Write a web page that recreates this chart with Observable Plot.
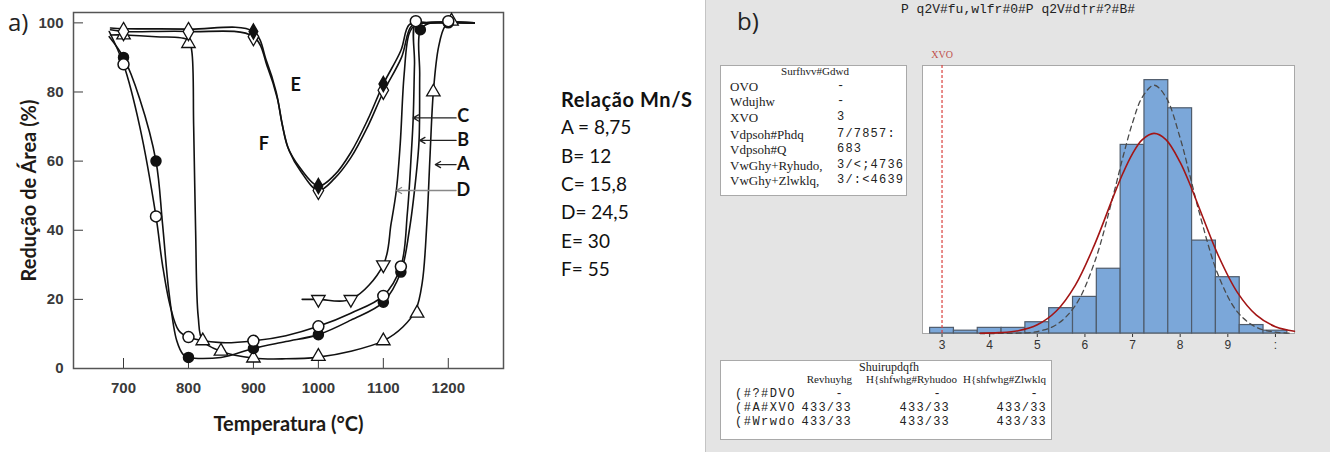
<!DOCTYPE html>
<html><head><meta charset="utf-8">
<script src="https://cdn.jsdelivr.net/npm/d3@7"></script>
<script src="https://cdn.jsdelivr.net/npm/@observablehq/plot@0.6"></script>
<style>
body{margin:0;background:#fff;}
#wrap{position:relative;width:1330px;height:452px;overflow:hidden;background:#fff;}
#pa{position:absolute;left:0;top:0;}
#pb{position:absolute;left:905px;top:40px;}
#panelB{position:absolute;left:705px;top:0;width:625px;height:452px;background:#e4e4e4;border-left:1px solid #c4c4c4;box-sizing:border-box;}
.box{position:absolute;background:#fff;border:1px solid #a9a9a9;box-sizing:border-box;}
.t{position:absolute;white-space:pre;}
#pa g[aria-label="x-axis label"] text, #pa g[aria-label="y-axis label"] text{font-family:Lato,sans-serif;font-size:20px;font-weight:bold;fill:#1e1a16;}
</style></head>
<body><div id="wrap"><div id="panelB"></div></div>
<script>
// ---------- Panel a data ----------
const tempTicks = [700, 800, 900, 1000, 1100, 1200];
const reductionTicks = [0, 20, 40, 60, 80, 100];
// curve A (open up-triangles)
const lineA = [[680,96.5],[700,96.5],[750,96],[800,95],[805,92],[808,70],[811,40],[815,15],[822,8],[850,5],[900,3],[950,2.8],[1000,3.3],[1050,5],[1100,8],[1130,12],[1150,17],[1160,25],[1167,42],[1172,62],[1177,80],[1185,93],[1195,99],[1205,100],[1240,100]];
const dotsA = [[700,96.5],[800,94],[822,8],[850,5],[900,3],[1000,3.5],[1100,8],[1152,16],[1177,80],[1205,100.5]];
// curve B (filled circles)
const lineB = [[678,96],[700,90],[725,78],[750,60],[760,42],[770,22],[782,8],[792,4],[800,3.2],[850,3.2],[900,5.8],[950,7.8],[1000,9.8],[1050,14],[1100,19.2],[1127,27.9],[1140,40],[1150,55],[1155,66],[1156,85],[1157,98],[1170,99.8],[1200,100],[1240,100]];
const dotsB = [[700,90],[750,60],[800,3.2],[900,5.8],[1000,9.8],[1100,19.2],[1127,27.9],[1157,98],[1200,100]];
// curve C (open circles)
const lineC = [[678,97.5],[700,88],[725,70],[750,44],[760,30],[772,18],[785,11],[800,9.1],[850,7.5],[900,8],[950,9.5],[1000,12.2],[1050,16],[1100,21],[1127,29.5],[1137,45],[1143,62],[1146,72.5],[1148,88],[1150,100],[1170,100],[1200,100.3],[1240,100]];
const dotsC = [[700,88],[750,44],[800,9.1],[900,8],[1000,12.2],[1100,21],[1127,29.5],[1150,100.5],[1200,100.5]];
// curve D (open down-triangles)
const lineD = [[975,20],[1000,20],[1050,20],[1100,30],[1112,42],[1120,51.5],[1126,65],[1132,85],[1140,97],[1150,99.5],[1200,100],[1240,100]];
const dotsD = [[1000,20],[1050,20],[1100,30]];
// curve E (open diamonds)
const lineE = [[680,98],[700,97.5],[800,97.5],[900,96],[922,87],[937,78],[945,70],[955,63],[973,57],[1000,51.5],[1025,55],[1050,61],[1076,70],[1100,80],[1128,90],[1143,99],[1160,100],[1240,100]];
const dotsE = [[700,97.5],[800,97.5],[900,96],[1000,51.5],[1100,80.5]];
// curve F (filled diamonds)
const lineF = [[680,98.5],[700,98.3],[800,98.2],[900,97.5],[920,89],[935,80],[944,71],[953,64],[972,58],[1000,52.8],[1025,56],[1050,62.5],[1076,72],[1100,82.3],[1127,92],[1140,99.5],[1160,100],[1240,100]];
const dotsF = [[900,97.5],[1000,52.8],[1100,82.3]];
// curve labels
const curveLabels = ["E", "F", "C", "B", "A", "D"];
const curveLabelX = [965, 916, 1223, 1223, 1223, 1223];
const curveLabelY = [82, 65, 73, 66, 59, 51.5];
// arrows from labels to curves
const arrowY = [72.5, 66, 59, 51.5];
const arrowFromX = [1212, 1212, 1212, 1212];
const arrowToX = [1146, 1156, 1180, 1120];
const arrowColor = ["#222", "#222", "#222", "#888"];
// legend
const legendTitle = "Relação Mn/S";
const legendItems = ["A = 8,75", "B= 12", "C= 15,8", "D= 24,5", "E= 30", "F= 55"];

// ---------- Panel b data ----------
const histTitle = "P q2V#fu,wlfr#0#P q2V#d\u2020r#?#B#";
const binStart = [2.75,3.25,3.75,4.25,4.75,5.25,5.75,6.25,6.75,7.25,7.75,8.25,8.75,9.25,9.75];
const binCount = [2,1,2,2,4,9,13,23,67,90,80,33,20,3,1];
const binWidth = 0.5;
const histTickValues = [3,4,5,6,7,8,9,10];
const histTickLabels = ["3","4","5","6","7","8","9",":"];
const fitOverallX = [3.8,4.2,4.6,5.0,5.4,5.8,6.2,6.6,6.8,7.0,7.2,7.45,7.7,8.0,8.2,8.4,8.8,9.2,9.6,10.0,10.4];
const fitOverallY = [0.1,0.3,1.0,3.1,8.0,17.2,31.5,48.8,57.0,63.9,68.8,71.1,68.9,60.8,53.2,44.6,27.7,14.6,6.5,2.4,0.8];
const fitWithinX = [3.8,4.2,4.6,5.0,5.4,5.8,6.2,6.6,6.8,7.0,7.2,7.45,7.7,8.0,8.2,8.4,8.8,9.2,9.6,10.0,10.3];
const fitWithinY = [0.0,0.02,0.13,0.7,3.1,10.0,25.2,49.4,62.8,74.9,83.8,88.2,84.0,69.4,56.4,43.0,20.7,7.7,2.2,0.5,0.1];
const uslValue = [3];
const uslLabel = "XVO";
const statsHeader = "Surfhvv#Gdwd";
const statsLabels = ["OVO", "Wdujhw", "XVO", "Vdpsoh#Phdq", "Vdpsoh#Q", "VwGhy+Ryhudo,", "VwGhy+Zlwklq,"];
const statsValues = ["-", "-", "3", "7/7857:", "683", "3/<;4736", "3/:<4639"];
const perfHeader = "Shuirupdqfh";
const perfColumns = ["Revhuyhg", "H{shfwhg#Ryhudoo", "H{shfwhg#Zlwklq"];
const perfRows = ["(#?#DVO", "(#A#XVO", "(#Wrwdo"];
const perfValues = [["-","-","-"],["433/33","433/33","433/33"],["433/33","433/33","433/33"]];

// ---------- helpers ----------
const wrap = document.getElementById("wrap");
function txt(s, x, y, o = {}) {
  const d = document.createElement("div");
  d.className = "t";
  d.textContent = s;
  const lh = o.lh || 20;
  d.style.left = x + "px";
  d.style.top = (y - lh / 2) + "px";
  d.style.lineHeight = lh + "px";
  d.style.font = o.font || "13px 'Liberation Serif'";
  d.style.color = o.color || "#222";
  if (o.ls) d.style.letterSpacing = o.ls;
  if (o.anchor === "middle") d.style.transform = "translateX(-50%)";
  if (o.anchor === "end") d.style.transform = "translateX(-100%)";
  (o.parent || wrap).appendChild(d);
  return d;
}
function box(x, y, w, h) {
  const d = document.createElement("div");
  d.className = "box";
  d.style.left = x + "px"; d.style.top = y + "px";
  d.style.width = w + "px"; d.style.height = h + "px";
  wrap.appendChild(d);
}
const pts = a => a.map(([x, y]) => ({x, y}));

// ---------- Panel a ----------
const lineStyle = {x: "x", y: "y", curve: "catmull-rom", stroke: "#111", strokeWidth: 1.6};
const plotA = Plot.plot({
  width: 540, height: 452,
  marginLeft: 73, marginRight: 37, marginTop: 12, marginBottom: 84,
  style: {fontFamily: "'Liberation Sans', Arial, sans-serif", fontSize: "15px", fontWeight: "bold", color: "#3a3a3a", background: "transparent", overflow: "visible"},
  x: {domain: [623, 1285], ticks: tempTicks, tickFormat: d => String(d), tickSize: -10, tickPadding: 24, label: "Temperatura (°C)", labelAnchor: "center", labelOffset: 62, labelArrow: "none"},
  y: {domain: [0, 103], ticks: reductionTicks, tickFormat: d => String(d), tickSize: -10, tickPadding: 20, label: "Redução de Área (%)", labelAnchor: "center", labelOffset: 52, labelArrow: "none"},
  marks: [
    Plot.frame({stroke: "#555", strokeWidth: 1.5}),
    Plot.line(pts(lineA), lineStyle),
    Plot.line(pts(lineB), lineStyle),
    Plot.line(pts(lineC), lineStyle),
    Plot.line(pts(lineD), lineStyle),
    Plot.line(pts(lineE), lineStyle),
    Plot.line(pts(lineF), lineStyle),
    Plot.dot(pts(dotsA), {x: "x", y: "y", symbol: "triangle", r: 5, stroke: "#111", fill: "white", strokeWidth: 1.3}),
    Plot.dot(pts(dotsB), {x: "x", y: "y", symbol: "circle", r: 5, stroke: "#111", fill: "#111"}),
    Plot.dot(pts(dotsC), {x: "x", y: "y", symbol: "circle", r: 5.5, stroke: "#111", fill: "white", strokeWidth: 1.5}),
    Plot.dot(pts(dotsD), {x: "x", y: "y", symbol: "triangle", rotate: 180, r: 5, stroke: "#111", fill: "white", strokeWidth: 1.3}),
    Plot.dot(pts(dotsE), {x: "x", y: "y", symbol: "diamond", r: 5.5, stroke: "#111", fill: "white", strokeWidth: 1.3}),
    Plot.dot(pts(dotsF), {x: "x", y: "y", symbol: "diamond", r: 4.5, stroke: "#111", fill: "#111"}),
    Plot.arrow(arrowY.map((y, i) => ({x1: arrowFromX[i], x2: arrowToX[i], y, c: arrowColor[i]})), {x1: "x1", x2: "x2", y1: "y", y2: "y", stroke: "c", headLength: 7, strokeWidth: 1.3}),
    Plot.text(curveLabels.map((t, i) => ({t, x: curveLabelX[i], y: curveLabelY[i]})), {x: "x", y: "y", text: "t", fontFamily: "Lato, sans-serif", fontSize: 18, fontWeight: "bold", fill: "#111"})
  ]
});
plotA.id = "pa";
wrap.appendChild(plotA);

txt("a)", 8, 20, {font: "24px 'Open Sans', sans-serif", color: "#222", lh: 30});
txt(legendTitle, 561, 100, {font: "bold 20px Lato, sans-serif", color: "#111", lh: 26, ls: "0.6px"});
legendItems.forEach((s, i) => txt(s, 561, [128, 157, 185, 213, 242, 270][i], {font: "19px Lato, sans-serif", color: "#111", lh: 26}));

// ---------- Panel b ----------
txt("b)", 737, 19, {font: "24px 'Open Sans', sans-serif", color: "#222", lh: 30});
txt(histTitle, 1018, 11, {font: "13px 'Liberation Mono', monospace", color: "#222", anchor: "middle", lh: 18});

const plotB = Plot.plot({
  width: 410, height: 320,
  marginLeft: 17, marginRight: 21, marginTop: 25, marginBottom: 27,
  style: {fontFamily: "'Liberation Sans', sans-serif", fontSize: "12px", color: "#333", background: "transparent", overflow: "visible"},
  x: {domain: [2.59, 10.4], ticks: histTickValues, tickFormat: d => histTickLabels[histTickValues.indexOf(d)], tickSize: 4, tickPadding: 3, label: null},
  y: {domain: [0, 95.2], axis: null},
  marks: [
    Plot.frame({fill: "white", stroke: "#a8a8a8"}),
    Plot.rect(binStart.map((x1, i) => ({x1, x2: x1 + binWidth, y: binCount[i]})), {x1: "x1", x2: "x2", y1: 0, y2: "y", fill: "#7ba7d9", stroke: "#4f5c6c", strokeWidth: 1.2}),
    Plot.ruleX(uslValue, {stroke: "#d9413e", strokeDasharray: "3,2", strokeWidth: 1.2}),
    Plot.line(fitWithinX.map((x, i) => ({x, y: fitWithinY[i]})), {x: "x", y: "y", curve: "catmull-rom", stroke: "#4a4a4a", strokeWidth: 1.3, strokeDasharray: "5,4"}),
    Plot.line(fitOverallX.map((x, i) => ({x, y: fitOverallY[i]})), {x: "x", y: "y", curve: "catmull-rom", stroke: "#a31515", strokeWidth: 1.6}),
    Plot.text(uslValue, {x: d => d, frameAnchor: "top", dy: -8, lineAnchor: "bottom", text: () => uslLabel, fill: "#c0504d", fontFamily: "'Liberation Serif', serif", fontSize: 10})
  ]
});
plotB.id = "pb";
wrap.appendChild(plotB);

// stats box
box(720, 65, 187, 131);
txt(statsHeader, 815, 75, {font: "11px 'Liberation Serif'", anchor: "middle"});
const statY = [89, 104, 120, 137, 152, 168, 183];
statsLabels.forEach((s, i) => {
  txt(s, 730, statY[i], {font: "13px 'Liberation Serif'"});
  txt(statsValues[i], 837, statY[i], {font: "12px 'Liberation Mono'", ls: "1.2px"});
});

// performance box
box(720, 360, 332, 80);
txt(perfHeader, 889, 370, {font: "12px 'Liberation Serif'", anchor: "middle"});
const colRight = [852, 950, 1047];
const colHeadRight = [852, 957, 1046];
perfColumns.forEach((s, j) => txt(s, colHeadRight[j], 383, {font: "11px 'Liberation Serif'", anchor: "end"}));
const rowY = [397, 411, 425];
perfRows.forEach((s, i) => {
  txt(s, 735, rowY[i], {font: "12px 'Liberation Mono'", ls: "1.5px"});
  perfValues[i].forEach((v, j) => txt(v, colRight[j] + (v === "-" ? -8 : 0), rowY[i], {font: "12px 'Liberation Mono'", anchor: "end", ls: "1.2px"}));
});
</script>
</body></html>
